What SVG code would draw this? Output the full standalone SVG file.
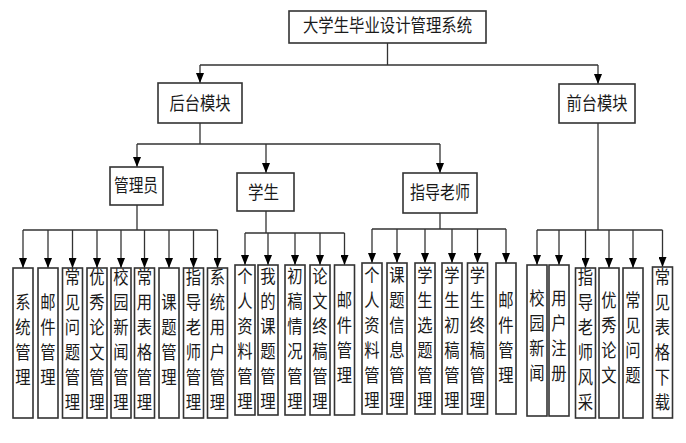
<svg xmlns="http://www.w3.org/2000/svg" width="686" height="443" viewBox="0 0 686 443">
<style>
.box{fill:#fff;stroke:#333;stroke-width:1.6}
.ln{fill:none;stroke:#333;stroke-width:1.3}
.ar{fill:none;stroke:#333;stroke-width:1.3;marker-end:url(#ah)}
.t{font-family:"Noto Sans CJK SC","Noto Sans",sans-serif;font-size:18px;fill:#1a1a1a;text-anchor:middle}
.v{font-family:"Noto Sans CJK SC","Noto Sans",sans-serif;font-size:18px;fill:#1a1a1a;text-anchor:middle}
</style>
<defs>
<marker id="ah" viewBox="0 0 10 8" markerWidth="10" markerHeight="8" markerUnits="userSpaceOnUse" refX="10" refY="4" orient="auto">
<path d="M0,0 L10,4 L0,8 z" fill="#000"/>
</marker>
</defs>
<rect width="686" height="443" fill="#fff"/>

<g id="connectors">
<path class="ln" d="M387.5,43 V65 M200,65 H598"/>
<path class="ar" d="M200,65 V83"/>
<path class="ar" d="M598,65 V84"/>
<path class="ln" d="M200,123 V144 M137,144 H440"/>
<path class="ar" d="M137,144 V167"/>
<path class="ar" d="M266,144 V173"/>
<path class="ar" d="M440,144 V173"/>
<path class="ln" d="M137,205 V230 M23,230 H217.5"/>
<path class="ar" d="M23,230 V268"/>
<path class="ar" d="M48,230 V268"/>
<path class="ar" d="M72.5,230 V268"/>
<path class="ar" d="M97,230 V268"/>
<path class="ar" d="M121,230 V268"/>
<path class="ar" d="M144.5,230 V268"/>
<path class="ar" d="M169,230 V268"/>
<path class="ar" d="M193.5,230 V268"/>
<path class="ar" d="M217.5,230 V268"/>
<path class="ln" d="M266,211 V233 M245,233 H344.5"/>
<path class="ar" d="M245,233 V265"/>
<path class="ar" d="M268,233 V265"/>
<path class="ar" d="M295,233 V265"/>
<path class="ar" d="M320,233 V265"/>
<path class="ar" d="M344.5,233 V265"/>
<path class="ln" d="M440,213 V229 M372,229 H506"/>
<path class="ar" d="M372,229 V263"/>
<path class="ar" d="M397,229 V263"/>
<path class="ar" d="M425,229 V263"/>
<path class="ar" d="M452,229 V263"/>
<path class="ar" d="M477.5,229 V263"/>
<path class="ar" d="M506,229 V263"/>
<path class="ln" d="M598,123 V230 M537,230 H662.5"/>
<path class="ar" d="M537,230 V265"/>
<path class="ar" d="M559,230 V265"/>
<path class="ar" d="M585.5,230 V268"/>
<path class="ar" d="M609,230 V268"/>
<path class="ar" d="M633,230 V268"/>
<path class="ar" d="M662.5,230 V267"/>
</g>

<g id="root"><rect class="box" x="289" y="11" width="197" height="32"/><text class="t" x="387.5" y="32" textLength="169" lengthAdjust="spacingAndGlyphs">大学生毕业设计管理系统</text></g>
<g id="houtai"><rect class="box" x="158" y="83" width="84" height="40"/><text class="t" x="200" y="110" textLength="61" lengthAdjust="spacingAndGlyphs">后台模块</text></g>
<g id="qiantai"><rect class="box" x="559" y="84" width="76" height="39"/><text class="t" x="597" y="110" textLength="61" lengthAdjust="spacingAndGlyphs">前台模块</text></g>
<g id="admin"><rect class="box" x="110" y="167" width="53" height="38"/><text class="t" x="136" y="192" textLength="44" lengthAdjust="spacingAndGlyphs">管理员</text></g>
<g id="student"><rect class="box" x="237" y="173" width="57" height="38"/><text class="t" x="263.5" y="199" textLength="31" lengthAdjust="spacingAndGlyphs">学生</text></g>
<g id="teacher"><rect class="box" x="403" y="173" width="74" height="40"/><text class="t" x="440" y="199" textLength="60" lengthAdjust="spacingAndGlyphs">指导老师</text></g>

<g id="a1"><rect class="box" x="13" y="268" width="20" height="150"/><text class="v" transform="translate(23,0) scale(0.85,1)"><tspan x="0" y="309">系</tspan><tspan x="0" y="334">统</tspan><tspan x="0" y="359">管</tspan><tspan x="0" y="384">理</tspan></text></g>
<g id="a2"><rect class="box" x="38" y="268" width="20" height="150"/><text class="v" transform="translate(48,0) scale(0.85,1)"><tspan x="0" y="309">邮</tspan><tspan x="0" y="334">件</tspan><tspan x="0" y="359">管</tspan><tspan x="0" y="384">理</tspan></text></g>
<g id="a3"><rect class="box" x="62.5" y="268" width="20" height="150"/><text class="v" transform="translate(72.5,0) scale(0.85,1)"><tspan x="0" y="284">常</tspan><tspan x="0" y="309">见</tspan><tspan x="0" y="334">问</tspan><tspan x="0" y="359">题</tspan><tspan x="0" y="384">管</tspan><tspan x="0" y="409">理</tspan></text></g>
<g id="a4"><rect class="box" x="87" y="268" width="20" height="150"/><text class="v" transform="translate(97,0) scale(0.85,1)"><tspan x="0" y="284">优</tspan><tspan x="0" y="309">秀</tspan><tspan x="0" y="334">论</tspan><tspan x="0" y="359">文</tspan><tspan x="0" y="384">管</tspan><tspan x="0" y="409">理</tspan></text></g>
<g id="a5"><rect class="box" x="111" y="268" width="20" height="150"/><text class="v" transform="translate(121,0) scale(0.85,1)"><tspan x="0" y="284">校</tspan><tspan x="0" y="309">园</tspan><tspan x="0" y="334">新</tspan><tspan x="0" y="359">闻</tspan><tspan x="0" y="384">管</tspan><tspan x="0" y="409">理</tspan></text></g>
<g id="a6"><rect class="box" x="134.5" y="268" width="20" height="150"/><text class="v" transform="translate(144.5,0) scale(0.85,1)"><tspan x="0" y="284">常</tspan><tspan x="0" y="309">用</tspan><tspan x="0" y="334">表</tspan><tspan x="0" y="359">格</tspan><tspan x="0" y="384">管</tspan><tspan x="0" y="409">理</tspan></text></g>
<g id="a7"><rect class="box" x="159" y="268" width="20" height="150"/><text class="v" transform="translate(169,0) scale(0.85,1)"><tspan x="0" y="309">课</tspan><tspan x="0" y="334">题</tspan><tspan x="0" y="359">管</tspan><tspan x="0" y="384">理</tspan></text></g>
<g id="a8"><rect class="box" x="183.5" y="268" width="20" height="150"/><text class="v" transform="translate(193.5,0) scale(0.85,1)"><tspan x="0" y="284">指</tspan><tspan x="0" y="309">导</tspan><tspan x="0" y="334">老</tspan><tspan x="0" y="359">师</tspan><tspan x="0" y="384">管</tspan><tspan x="0" y="409">理</tspan></text></g>
<g id="a9"><rect class="box" x="207.5" y="268" width="20" height="150"/><text class="v" transform="translate(217.5,0) scale(0.85,1)"><tspan x="0" y="284">系</tspan><tspan x="0" y="309">统</tspan><tspan x="0" y="334">用</tspan><tspan x="0" y="359">户</tspan><tspan x="0" y="384">管</tspan><tspan x="0" y="409">理</tspan></text></g>

<g id="s1"><rect class="box" x="235" y="265" width="20" height="150"/><text class="v" transform="translate(245,0) scale(0.85,1)"><tspan x="0" y="283">个</tspan><tspan x="0" y="308">人</tspan><tspan x="0" y="333">资</tspan><tspan x="0" y="358">料</tspan><tspan x="0" y="383">管</tspan><tspan x="0" y="408">理</tspan></text></g>
<g id="s2"><rect class="box" x="258" y="265" width="20" height="150"/><text class="v" transform="translate(268,0) scale(0.85,1)"><tspan x="0" y="283">我</tspan><tspan x="0" y="308">的</tspan><tspan x="0" y="333">课</tspan><tspan x="0" y="358">题</tspan><tspan x="0" y="383">管</tspan><tspan x="0" y="408">理</tspan></text></g>
<g id="s3"><rect class="box" x="285" y="265" width="20" height="150"/><text class="v" transform="translate(295,0) scale(0.85,1)"><tspan x="0" y="283">初</tspan><tspan x="0" y="308">稿</tspan><tspan x="0" y="333">情</tspan><tspan x="0" y="358">况</tspan><tspan x="0" y="383">管</tspan><tspan x="0" y="408">理</tspan></text></g>
<g id="s4"><rect class="box" x="310" y="265" width="20" height="150"/><text class="v" transform="translate(320,0) scale(0.85,1)"><tspan x="0" y="283">论</tspan><tspan x="0" y="308">文</tspan><tspan x="0" y="333">终</tspan><tspan x="0" y="358">稿</tspan><tspan x="0" y="383">管</tspan><tspan x="0" y="408">理</tspan></text></g>
<g id="s5"><rect class="box" x="334.5" y="265" width="20" height="150"/><text class="v" transform="translate(344.5,0) scale(0.85,1)"><tspan x="0" y="307">邮</tspan><tspan x="0" y="332">件</tspan><tspan x="0" y="357">管</tspan><tspan x="0" y="382">理</tspan></text></g>

<g id="t1"><rect class="box" x="362" y="263" width="20" height="151"/><text class="v" transform="translate(372,0) scale(0.85,1)"><tspan x="0" y="282">个</tspan><tspan x="0" y="307">人</tspan><tspan x="0" y="332">资</tspan><tspan x="0" y="357">料</tspan><tspan x="0" y="382">管</tspan><tspan x="0" y="407">理</tspan></text></g>
<g id="t2"><rect class="box" x="387" y="263" width="20" height="151"/><text class="v" transform="translate(397,0) scale(0.85,1)"><tspan x="0" y="282">课</tspan><tspan x="0" y="307">题</tspan><tspan x="0" y="332">信</tspan><tspan x="0" y="357">息</tspan><tspan x="0" y="382">管</tspan><tspan x="0" y="407">理</tspan></text></g>
<g id="t3"><rect class="box" x="415" y="263" width="20" height="151"/><text class="v" transform="translate(425,0) scale(0.85,1)"><tspan x="0" y="282">学</tspan><tspan x="0" y="307">生</tspan><tspan x="0" y="332">选</tspan><tspan x="0" y="357">题</tspan><tspan x="0" y="382">管</tspan><tspan x="0" y="407">理</tspan></text></g>
<g id="t4"><rect class="box" x="442" y="263" width="20" height="151"/><text class="v" transform="translate(452,0) scale(0.85,1)"><tspan x="0" y="282">学</tspan><tspan x="0" y="307">生</tspan><tspan x="0" y="332">初</tspan><tspan x="0" y="357">稿</tspan><tspan x="0" y="382">管</tspan><tspan x="0" y="407">理</tspan></text></g>
<g id="t5"><rect class="box" x="467.5" y="263" width="20" height="151"/><text class="v" transform="translate(477.5,0) scale(0.85,1)"><tspan x="0" y="282">学</tspan><tspan x="0" y="307">生</tspan><tspan x="0" y="332">终</tspan><tspan x="0" y="357">稿</tspan><tspan x="0" y="382">管</tspan><tspan x="0" y="407">理</tspan></text></g>
<g id="t6"><rect class="box" x="496" y="263" width="20" height="151"/><text class="v" transform="translate(506,0) scale(0.85,1)"><tspan x="0" y="307">邮</tspan><tspan x="0" y="332">件</tspan><tspan x="0" y="357">管</tspan><tspan x="0" y="382">理</tspan></text></g>

<g id="f1"><rect class="box" x="527" y="265" width="20" height="151"/><text class="v" transform="translate(537,0) scale(0.85,1)"><tspan x="0" y="305">校</tspan><tspan x="0" y="330">园</tspan><tspan x="0" y="355">新</tspan><tspan x="0" y="380">闻</tspan></text></g>
<g id="f2"><rect class="box" x="549" y="265" width="20" height="151"/><text class="v" transform="translate(559,0) scale(0.85,1)"><tspan x="0" y="305">用</tspan><tspan x="0" y="330">户</tspan><tspan x="0" y="355">注</tspan><tspan x="0" y="380">册</tspan></text></g>
<g id="f3"><rect class="box" x="575.5" y="268" width="20" height="150"/><text class="v" transform="translate(585.5,0) scale(0.85,1)"><tspan x="0" y="284">指</tspan><tspan x="0" y="309">导</tspan><tspan x="0" y="334">老</tspan><tspan x="0" y="359">师</tspan><tspan x="0" y="384">风</tspan><tspan x="0" y="409">采</tspan></text></g>
<g id="f4"><rect class="box" x="599" y="268" width="20" height="150"/><text class="v" transform="translate(609,0) scale(0.85,1)"><tspan x="0" y="307">优</tspan><tspan x="0" y="332">秀</tspan><tspan x="0" y="357">论</tspan><tspan x="0" y="382">文</tspan></text></g>
<g id="f5"><rect class="box" x="623" y="268" width="20" height="150"/><text class="v" transform="translate(633,0) scale(0.85,1)"><tspan x="0" y="307">常</tspan><tspan x="0" y="332">见</tspan><tspan x="0" y="357">问</tspan><tspan x="0" y="382">题</tspan></text></g>
<g id="f6"><rect class="box" x="652.5" y="267" width="20" height="151"/><text class="v" transform="translate(662.5,0) scale(0.85,1)"><tspan x="0" y="284">常</tspan><tspan x="0" y="309">见</tspan><tspan x="0" y="334">表</tspan><tspan x="0" y="359">格</tspan><tspan x="0" y="384">下</tspan><tspan x="0" y="409">载</tspan></text></g>
</svg>
